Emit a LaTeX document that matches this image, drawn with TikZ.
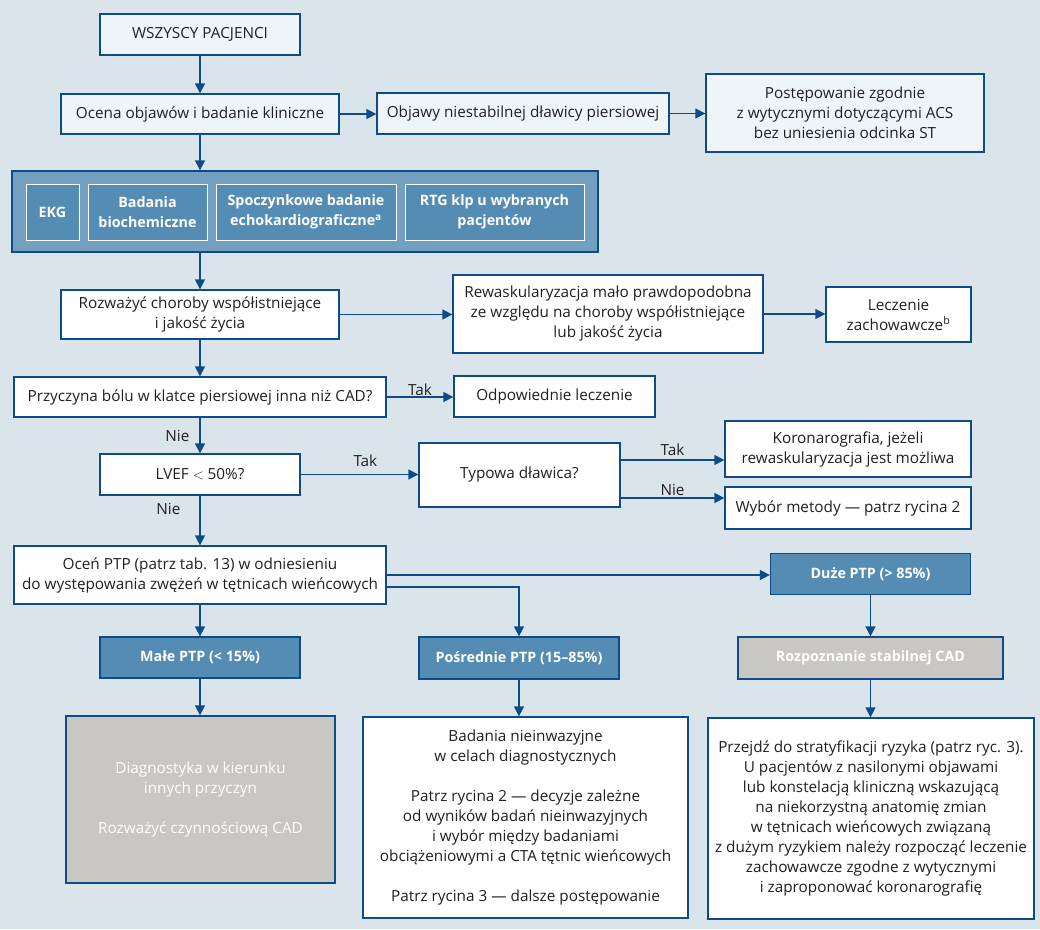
\documentclass[tikz,border=0pt]{standalone}
\usepackage{fontspec}
\setmainfont{Open Sans}
\usetikzlibrary{arrows.meta,positioning}
\definecolor{fondo}{RGB}{218,228,235}
\definecolor{borde}{RGB}{14,75,135}
\definecolor{claro}{RGB}{239,244,248}
\definecolor{panel}{RGB}{115,160,193}
\definecolor{azul}{RGB}{85,140,180}
\definecolor{gris}{RGB}{200,199,195}
\definecolor{texto}{RGB}{35,31,32}

\begin{document}
\begin{tikzpicture}[x=1pt,y=-1pt]
  \tikzset{main node/.style={rectangle, draw=borde, line width=1.3pt, fill=white,
		text=texto, align=center, inner sep=0pt, font=\fontsize{15.3}{20}\selectfont}, }
\tikzset{top node/.style={main node, fill=claro}, }
\tikzset{blue node/.style={main node, fill=azul, text=white,
		font=\fontsize{14.3}{20}\selectfont\bfseries}, }
\tikzset{inner node/.style={blue node, draw=white, line width=1pt}, }
\tikzset{gray node/.style={main node, fill=gris, text=white}, }
\tikzset{caja/.style 2 args={minimum width=#1pt, minimum height=#2pt}, }
\tikzset{etiqueta/.style={text=texto, inner sep=1pt, font=\fontsize{15.3}{18}\selectfont}, }
\tikzset{linea/.style={-{Triangle[length=10pt,width=10pt]}, draw=borde, line width=1.3pt},}
  \fill[fondo] (0,0) rectangle (1040,929);
  \useasboundingbox (0,0) rectangle (1040,929);
    \node[top node, caja={200}{41}] (todos) at (200,34.5) {WSZYSCY PACJENCI};
    \node[top node, caja={278}{40}] (ocena) at (200,114) {Ocena objawów i badanie kliniczne};
    \node[top node, caja={292}{41}] (objawy) at (523,113.5) {Objawy niestabilnej dławicy piersiowej};
    \node[top node, caja={278}{78}] (acs) at (845,113) {Postępowanie zgodnie\\ z wytycznymi dotyczącymi ACS\\ bez uniesienia odcinka ST};
%
    \node[main node, fill=panel, caja={586}{81}] (panel) at (305,211.5) {};
    \node[inner node, caja={53}{56}] (ekg) at (52.5,212) {EKG};
    \node[inner node, caja={119}{56}] (bio) at (147.5,212) {Badania\\ biochemiczne};
    \node[inner node, caja={180}{56}] (echo) at (306,212) {Spoczynkowe badanie\\ echokardiograficzne\textsuperscript{a}};
    \node[inner node, caja={179}{56}] (rtg) at (494.5,212) {RTG klp u wybranych\\ pacjentów};
%
    \node[main node, caja={278}{49}] (rozwaz) at (200,314.5) {Rozważyć choroby współistniejące\\ i jakość życia};
    \node[main node, caja={310}{78}] (rewask) at (608,314) {Rewaskularyzacja mało prawdopodobna\\ ze względu na choroby współistniejące\\ lub jakość życia};
    \node[main node, caja={145}{55}] (zach) at (898.5,314.5) {Leczenie\\ zachowawcze\textsuperscript{b}};
    \node[main node, caja={372}{40}] (przycz) at (200,397) {Przyczyna bólu w klatce piersiowej inna niż CAD?};
    \node[main node, caja={201}{41}] (odpow) at (554.5,396.5) {Odpowiednie leczenie};
    \node[main node, caja={200}{41}] (lvef) at (200,474.5) {LVEF $<$ 50\%?};
    \node[main node, caja={201}{64}] (typowa) at (519.5,475) {Typowa dławica?};
    \node[main node, caja={246}{56}] (korona) at (848,449) {Koronarografia, jeżeli\\ rewaskularyzacja jest możliwa};
    \node[main node, caja={246}{42}] (wybor) at (848,508) {Wybór metody — patrz rycina 2};
    \node[main node, caja={372}{58}] (ocen) at (200,575) {Oceń PTP (patrz tab. 13) w odniesieniu\\ do występowania zwężeń w tętnicach wieńcowych};
%
    \node[blue node, caja={200}{41}] (duze) at (870.5,574) {Duże PTP (> 85\%)};
    \node[blue node, caja={200}{41}] (male) at (200,657.5) {Małe PTP (< 15\%)};
    \node[blue node, caja={200}{42}] (posred) at (519,658) {Pośrednie PTP (15–85\%)};
    \node[gray node, caja={265}{42}, font=\fontsize{14.3}{20}\selectfont\bfseries] (rozpoz) at (870.5,658) {Rozpoznanie stabilnej CAD};
%
    \node[gray node, caja={269}{167}] (diagn) at (200.5,799.5) {Diagnostyka w kierunku\\ innych przyczyn\\[20pt] Rozważyć czynnościową CAD};
    \node[main node, caja={325}{201}] (badania) at (525.5,817.5) {Badania nieinwazyjne\\ w celach diagnostycznych\\[20pt]
      Patrz rycina 2 — decyzje zależne\\ od wyników badań nieinwazyjnych\\ i wybór między badaniami\\ obciążeniowymi a CTA tętnic wieńcowych\\[20pt]
      Patrz rycina 3 — dalsze postępowanie};
    \node[main node, caja={326}{201}] (przejdz) at (871,818.5) {Przejdź do stratyfikacji ryzyka (patrz ryc. 3).\\
      U pacjentów z nasilonymi objawami\\ lub konstelacją kliniczną wskazującą\\ na niekorzystną anatomię zmian\\
      w tętnicach wieńcowych związaną\\ z dużym ryzykiem należy rozpocząć leczenie\\ zachowawcze zgodne z wytycznymi\\ i zaproponować koronarografię};
%
\foreach \x /\y in{todos/ocena,rozwaz/przycz,duze/rozpoz,ocen/male,male/diagn,rozpoz/przejdz}
  \draw[linea] (\x.south) -- (\x.south |- \y.north);
\foreach \x /\y in{ocena/objawy,objawy/acs,rozwaz/rewask,rewask/zach,ocen/duze}
  \draw[linea] (\x.east) -- (\x.east -| \y.west);
%
  \draw[linea] (ocena.south) -- (ocena.south |- panel.north);
  \draw[linea] (rozwaz.north |- panel.south) -- (rozwaz.north);
  \draw[linea] (posred.south) -- (posred.south |- badania.north);
  \draw[linea] (przycz.east) -- node[etiqueta, above] {Tak} (przycz.east -| odpow.west);
  \draw[linea] (przycz.south) -- node[etiqueta, left=9pt, pos=0.5] {Nie} (przycz.south |- lvef.north);
  \draw[linea] (lvef.east) -- node[etiqueta, above=6pt, pos=0.55] {Tak} (lvef.east -| typowa.west);
  \draw[linea] (lvef.south) -- node[etiqueta, left=18pt, pos=0.27] {Nie} (lvef.south |- ocen.north);
  \draw[linea] ([yshift=15pt]typowa.east) -- node[etiqueta, above=3pt] {Tak} ([yshift=15pt]typowa.east -| korona.west);
  \draw[linea] ([yshift=-23pt]typowa.east) -- node[etiqueta, above=1pt] {Nie} ([yshift=-23pt]typowa.east -| wybor.west);
  \draw[linea] ([yshift=-12pt]ocen.east) -| (posred.north);
%
\end{tikzpicture}
\end{document}
